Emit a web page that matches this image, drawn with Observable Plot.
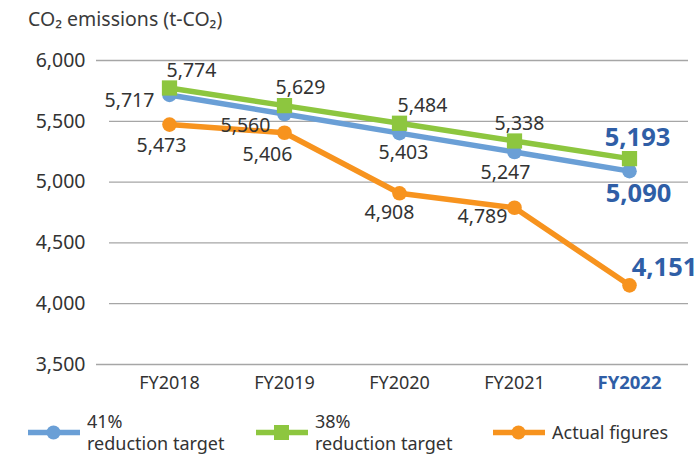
<!DOCTYPE html>
<html>
<head>
<meta charset="utf-8">
<script src="https://cdn.jsdelivr.net/npm/d3@7"></script>
<script src="https://cdn.jsdelivr.net/npm/@observablehq/plot@0.6"></script>
<style>
  body { margin: 0; background: #fff; }
  #wrap { position: relative; width: 700px; height: 454px; font-family: "Noto Sans", sans-serif; color: #333; overflow: hidden; }
  #title { position: absolute; left: 28px; top: 5px; font-size: 19.5px; color: #3a3a3a; }
  #chart { position: absolute; left: 0; top: 0; }
  #legend { position: absolute; left: 0; top: 410px; width: 700px; height: 44px; }
  .item { position: absolute; top: 0; display: flex; align-items: center; }
  .item span { font-size: 18px; line-height: 22px; color: #333; }
</style>
</head>
<body>
<div id="wrap">
  <div id="chart"></div>
  <div id="title">CO₂ emissions (t-CO₂)</div>
  <div id="legend"></div>
</div>
<script>
const categories = ["FY2018", "FY2019", "FY2020", "FY2021", "FY2022"];
const target41 = [5717, 5560, 5403, 5247, 5090];
const target38 = [5774, 5629, 5484, 5338, 5193];
const actual = [5473, 5406, 4908, 4789, 4151];
const yTicks = [3500, 4000, 4500, 5000, 5500, 6000];
const seriesNames = ["41%\nreduction target", "38%\nreduction target", "Actual figures"];

// label offsets (px) relative to each point
const off41 = [[-40, 6], [-39, 12], [4, 20], [-9, 21], [9, 23]];
const off38 = [[22, -17], [16, -18], [23, -17], [5, -17], [8, -21]];
const offAct = [[-8, 21], [-17, 22], [-10, 19], [-32, 9], [35, -18]];

const colors = { t41: "#6a9fd6", t38: "#8dc63f", act: "#f7931e", bold: "#2f5ea6", text: "#333333", grid: "#a6a6a6" };

const series = [
  { key: "t41", values: target41, offs: off41, symbol: "circle" },
  { key: "t38", values: target38, offs: off38, symbol: "square" },
  { key: "act", values: actual, offs: offAct, symbol: "circle" }
];
const rows = s => categories.map((c, i) => ({ cat: c, v: s.values[i], i }));

const marks = [];
// gridlines
marks.push(Plot.ruleY([3500, 6000], { y: d => d, stroke: colors.grid, strokeWidth: 1.3 }));
marks.push(Plot.ruleY([4000, 4500, 5000, 5500], { y: d => d, stroke: colors.grid, strokeWidth: 1.3, insetLeft: 13 }));
// y axis labels
marks.push(Plot.axisY(yTicks, { tickSize: 0, tickPadding: 11, fontSize: 19.5, fill: colors.text, tickFormat: d3.format(","), label: null }));
// x labels
marks.push(Plot.text(categories.slice(0, 4), { x: d => d, frameAnchor: "bottom", dy: 24, fontSize: 18, fill: colors.text }));
marks.push(Plot.text(categories.slice(4), { x: d => d, frameAnchor: "bottom", dy: 24, fontSize: 18.5, fontWeight: "bold", fill: colors.bold }));

// lines: orange, blue, green (green on top)
for (const s of [series[2], series[0], series[1]]) {
  const data = rows(s);
  marks.push(Plot.line(data, { x: "cat", y: "v", stroke: colors[s.key], strokeWidth: 5.5 }));
  if (s.symbol === "square") {
    marks.push(Plot.dot(data, { x: "cat", y: "v", symbol: "square", r: 8.6, fill: colors[s.key], stroke: "none" }));
  } else {
    marks.push(Plot.dot(data, { x: "cat", y: "v", r: 7.3, fill: colors[s.key], stroke: "none" }));
  }
}
// value labels
for (const s of series) {
  const data = rows(s);
  data.forEach((d, i) => {
    const last = i === categories.length - 1;
    marks.push(Plot.text([d], {
      x: "cat", y: "v", text: r => d3.format(",")(r.v),
      dx: s.offs[i][0], dy: s.offs[i][1],
      fontSize: last ? 25.5 : 19.5,
      fontWeight: last ? "bold" : "normal",
      fill: last ? colors.bold : colors.text
    }));
  });
}

const chart = Plot.plot({
  width: 700,
  height: 400,
  marginTop: 60,
  marginBottom: 36,
  marginLeft: 96,
  marginRight: 12,
  style: { fontFamily: "'Noto Sans', sans-serif", background: "transparent", overflow: "visible" },
  x: { type: "point", domain: categories, padding: 0, insetLeft: 71, insetRight: 58, axis: null },
  y: { domain: [3500, 6000], axis: null },
  marks
});
document.getElementById("chart").appendChild(chart);

// legend
const legend = document.getElementById("legend");
const legendItems = [
  { key: "t41", symbol: "circle", left: 28 },
  { key: "t38", symbol: "square", left: 256 },
  { key: "act", symbol: "circle", left: 493 }
];
legendItems.forEach((it, idx) => {
  const div = document.createElement("div");
  div.className = "item";
  div.style.left = it.left + "px";
  const c = colors[it.key];
  const marker = it.symbol === "square"
    ? `<rect x="18" y="3" width="15" height="15" fill="${c}"/>`
    : `<circle cx="25.5" cy="10.5" r="7" fill="${c}"/>`;
  div.innerHTML = `<svg width="52" height="21" style="margin-right:7px"><line x1="0" x2="52" y1="10.5" y2="10.5" stroke="${c}" stroke-width="5.5"/>${marker}</svg><span>${seriesNames[idx].replace("\n", "<br>")}</span>`;
  if (idx === 2) div.style.top = "11px";
  legend.appendChild(div);
});
</script>
</body>
</html>
